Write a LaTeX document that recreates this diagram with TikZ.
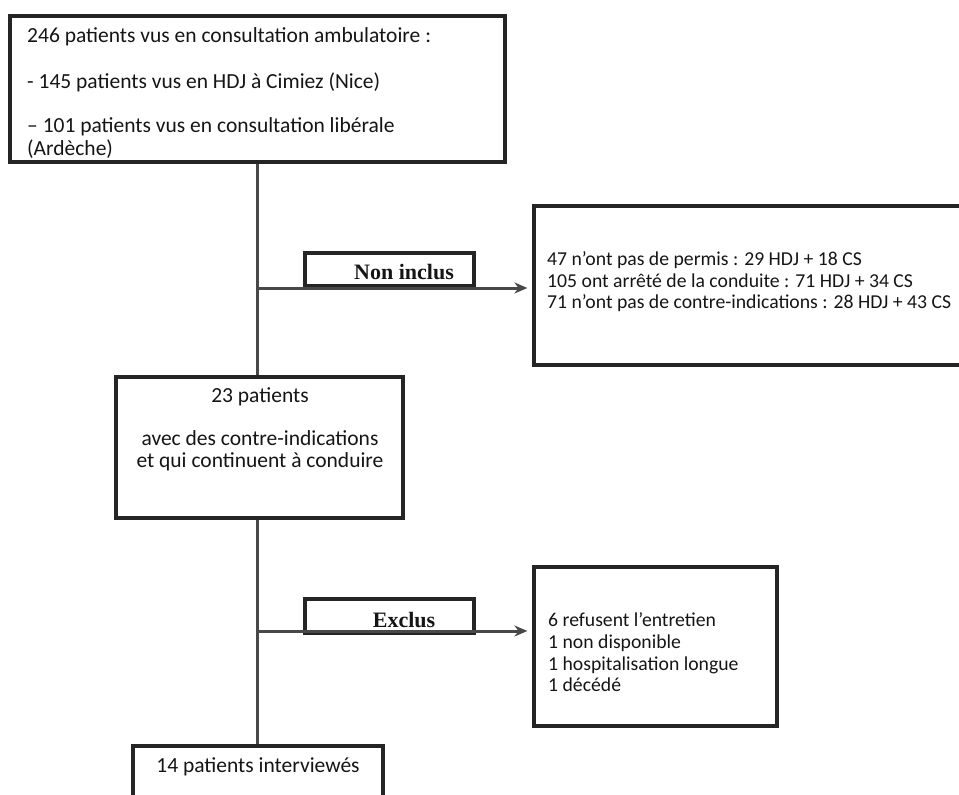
\documentclass[tikz,border=0pt]{standalone}
\usepackage{fontspec}
\setmainfont{Carlito}
\newfontfamily\timesfont{Liberation Serif}
\usetikzlibrary{arrows.meta,calc}
\definecolor{boxc}{HTML}{252525}
\definecolor{connc}{HTML}{484848}
\definecolor{txtc}{HTML}{151515}
\begin{document}
\begin{tikzpicture}[x=1pt,y=-1pt,
  box/.style={draw=boxc,line width=3.2pt,inner sep=0pt},
  conn/.style={draw=connc,line width=3pt},
  arr/.style={conn,-{Stealth[length=13pt,width=11pt]},shorten >=5pt},
  maintxt/.style={text=txtc,inner sep=0pt,font=\fontsize{21.5}{25}\selectfont},
  sidetxt/.style={text=txtc,inner sep=0pt,font=\fontsize{19.7}{23}\selectfont},
  lbltxt/.style={text=txtc,inner sep=0pt,font=\timesfont\bfseries\fontsize{22}{26}\selectfont}]
\useasboundingbox (0,0) rectangle (959,795);
% boxes
\node[box,minimum width=495pt,minimum height=146pt] (top) at (257.5,89) {};
\node[box,minimum width=431pt,minimum height=159pt] (r1) at (749.5,285.5) {};
\node[box,minimum width=169pt,minimum height=33pt] (ni) at (389.5,269.5) {};
\node[box,minimum width=287pt,minimum height=141pt] (mid) at (259.5,447.5) {};
\node[box,minimum width=169pt,minimum height=34pt] (ex) at (389.5,616) {};
\node[box,minimum width=243pt,minimum height=159pt] (r2) at (655.5,646.5) {};
\node[box,minimum width=250pt,minimum height=64pt] (bot) at (258,778) {};
% connectors
\coordinate (b1) at (257,288);
\coordinate (b2) at (257,631);
\draw[conn] (top.south -| b1) -- (mid.north -| b1);
\draw[conn] (mid.south -| b2) -- (bot.north -| b2);
\draw[arr] (b1) -- (b1 -| r1.west);
\draw[arr] (b2) -- (b2 -| r2.west);
% texts
\node[maintxt,anchor=base west] (t1) at (27,42) {246 patients vus en consultation ambulatoire :};
\node[maintxt,anchor=base west] (t2) at (27,88) {- 145 patients vus en HDJ à Cimiez (Nice)};
\node[maintxt,anchor=base west] (t3) at (27,132) {– 101 patients vus en consultation libérale};
\node[maintxt,anchor=base west] (t4) at (27,155) {(Ardèche)};
\node[lbltxt,anchor=base] (nit) at (404,279) {Non inclus};
\node[sidetxt,anchor=base west] (s1) at (547,265) {47 n’ont pas de permis : 29 HDJ + 18 CS};
\node[sidetxt,anchor=base west] (s2) at (547,287) {105 ont arrêté de la conduite : 71 HDJ + 34 CS};
\node[sidetxt,anchor=base west] (s3) at (547,308) {71 n’ont pas de contre-indications : 28 HDJ + 43 CS};
\node[maintxt,anchor=base] (m1) at (260,402) {23 patients};
\node[maintxt,anchor=base] (m2) at (260,445) {avec des contre-indications};
\node[maintxt,anchor=base] (m3) at (260,467) {et qui continuent à conduire};
\node[lbltxt,anchor=base] (ext) at (404,627) {Exclus};
\node[sidetxt,anchor=base west] (e1) at (548,626) {6 refusent l’entretien};
\node[sidetxt,anchor=base west] (e2) at (548,648) {1 non disponible};
\node[sidetxt,anchor=base west] (e3) at (548,670) {1 hospitalisation longue};
\node[sidetxt,anchor=base west] (e4) at (548,691) {1 décédé};
\node[maintxt,anchor=base] (bt) at (258,772) {14 patients interviewés};
\end{tikzpicture}
\end{document}
